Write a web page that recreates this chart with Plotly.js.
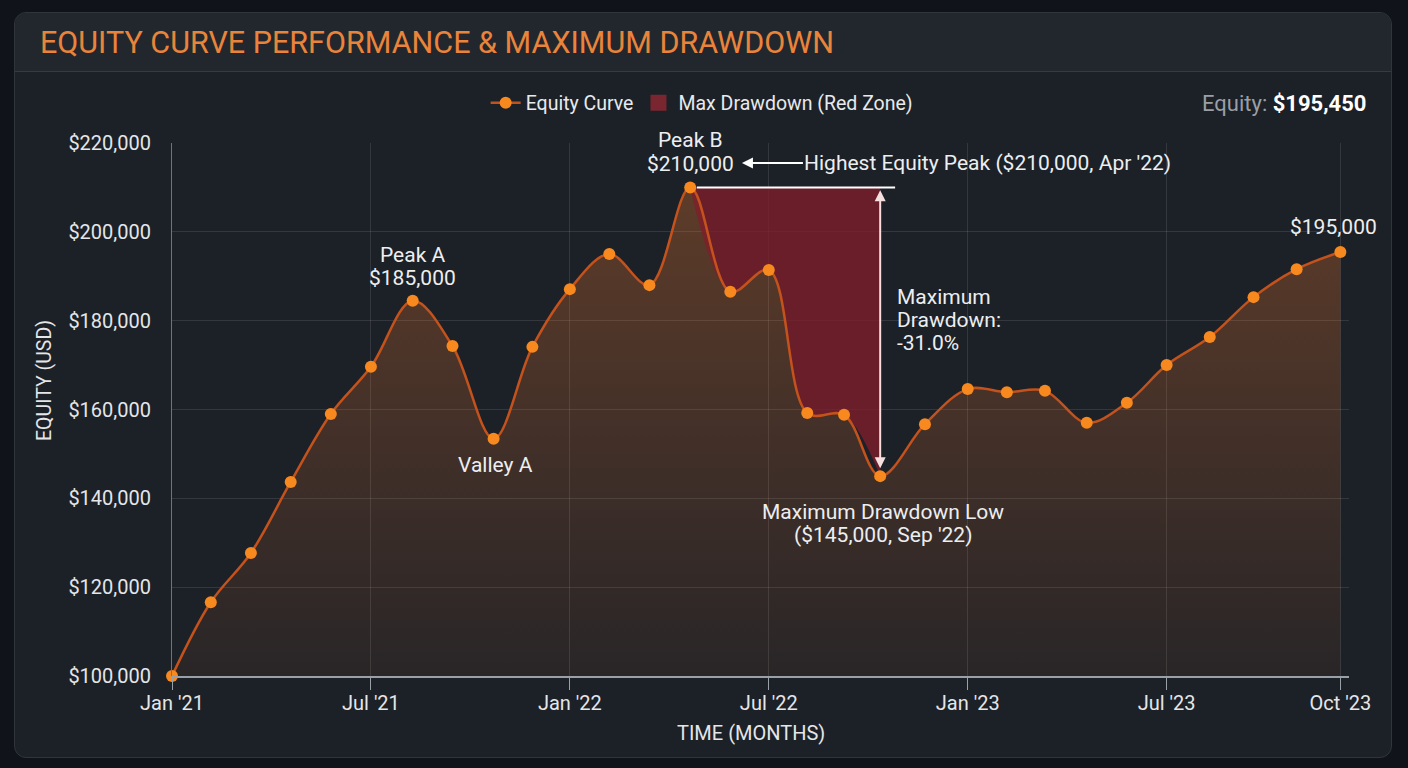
<!DOCTYPE html>
<html>
<head>
<meta charset="utf-8">
<script src="https://cdn.plot.ly/plotly-3.0.1.min.js"></script>
<style>
  html, body { margin:0; padding:0; background:#10141a; width:1408px; height:768px; overflow:hidden; }
  #card { position:absolute; left:14px; top:12px; width:1378px; height:746px; box-sizing:border-box;
          background:#1c2027; border:1px solid #30353c; border-radius:12px; overflow:hidden; }
  #hdr { position:absolute; left:0; top:0; width:100%; height:58px; background:#22272e; border-bottom:1px solid #363b43; }
  #chart { position:absolute; left:0; top:0; width:1408px; height:768px; }
</style>
</head>
<body>
<div id="card"><div id="hdr"></div></div>
<div id="chart"></div>
<script>
// ---- data (x = months since Jan '21, as placed in the picture) ----
const months = [0, 1.17, 2.38, 3.58, 4.79, 6.0, 7.26, 8.46, 9.70, 10.87,
                12.0, 13.19, 14.40, 15.63, 16.84, 18.0, 19.16, 20.27, 21.36, 22.71,
                24.0, 25.18, 26.33, 27.59, 28.80, 30.0, 31.30, 32.62, 33.92, 35.24];
const equity = [100000, 116600, 127700, 143700, 159000, 169600, 184500, 174300, 153400, 174100,
                187100, 195000, 188000, 210000, 186500, 191400, 159200, 158800, 145000, 156700,
                164600, 163900, 164200, 157000, 161500, 170000, 176300, 185300, 191600, 195450];
const tickVals = [0, 6, 12, 18, 24, 30, 35.24];
const tickText = ["Jan '21", "Jul '21", "Jan '22", "Jul '22", "Jan '23", "Jul '23", "Oct '23"];
const yTickVals = [100000, 120000, 140000, 160000, 180000, 200000, 220000];
const yTickText = ['$100,000', '$120,000', '$140,000', '$160,000', '$180,000', '$200,000', '$220,000'];
const peakIdx = 13;   // Peak B
const lowIdx = 18;    // Max drawdown low
const peakAIdx = 6;
const valleyAIdx = 8;
const lastIdx = equity.length - 1;

const FONT = 'Roboto, "Noto Sans", sans-serif';
const peakVal = equity[peakIdx];
const lowVal = equity[lowIdx];
const ddPct = ((lowVal - peakVal) / peakVal * 100).toFixed(1);
const fmt = v => '$' + v.toLocaleString('en-US');

const ddX = months.slice(peakIdx, lowIdx + 1);
const ddY = equity.slice(peakIdx, lowIdx + 1);

const traces = [
  { x: months, y: equity, type: 'scatter', mode: 'lines', line: { shape: 'spline', smoothing: 1, width: 0 },
    fill: 'tozeroy', showlegend: false, hoverinfo: 'skip',
    fillgradient: { type: 'vertical', start: 100000, stop: 212000,
      colorscale: [[0, 'rgba(215,110,45,0.07)'], [1, 'rgba(225,115,45,0.34)']] } },
  { x: ddX, y: ddY.map(() => peakVal), type: 'scatter', mode: 'lines', line: { width: 0 },
    showlegend: false, hoverinfo: 'skip' },
  { x: ddX, y: ddY, type: 'scatter', mode: 'lines', line: { shape: 'spline', smoothing: 1, width: 0 },
    fill: 'tonexty', fillcolor: 'rgba(128,30,42,0.78)', showlegend: false, hoverinfo: 'skip' },
  { x: months, y: equity, type: 'scatter', mode: 'lines+markers', name: 'Equity Curve', legendrank: 1,
    cliponaxis: false,
    line: { shape: 'spline', smoothing: 1, color: '#c4521c', width: 2.5 },
    marker: { color: '#f7891f', size: 12 } },
  { x: [null], y: [null], type: 'scatter', mode: 'markers', name: 'Max Drawdown (Red Zone)', legendrank: 2,
    marker: { symbol: 'square', size: 21, color: '#7a2630' } }
];

const annColor = '#eceef0';
const AF = { size: 21, color: annColor, family: FONT };
function lbl(x, y, text, opts) {
  return Object.assign({ x: x, y: y, text: text, showarrow: false, yanchor: 'middle', font: AF }, opts || {});
}
const annotations = [
  lbl(months[peakIdx], 215300, 'Peak B', { yshift: 24 }),
  lbl(months[peakIdx], 215300, fmt(peakVal)),
  { x: 17.19, y: 215500, ax: 246, ay: 0, text: "Highest Equity Peak (" + fmt(peakVal) + ", Apr '22)",
    showarrow: true, arrowhead: 2, arrowsize: 1.1, arrowwidth: 2, arrowcolor: '#ffffff', font: AF },
  lbl(months[peakAIdx], 194800, 'Peak A'),
  lbl(months[peakAIdx], 189600, '$185,000'),
  lbl(months[valleyAIdx], 147500, 'Valley A', { xshift: 2 }),
  lbl(21.81, 185300, 'Maximum', { xanchor: 'left' }),
  lbl(21.81, 180150, 'Drawdown:', { xanchor: 'left' }),
  lbl(21.81, 175000, ddPct + '%', { xanchor: 'left' }),
  lbl(months[lowIdx], 136900, 'Maximum Drawdown Low', { xshift: 3 }),
  lbl(months[lowIdx], 131750, '(' + fmt(lowVal) + ", Sep '22)", { xshift: 3 }),
  lbl(months[lastIdx], 201100, '$195,000', { xshift: -7 }),
  { x: months[lowIdx], y: 146800, ax: months[lowIdx], ay: 209700, axref: 'x', ayref: 'y', text: '',
    showarrow: true, arrowside: 'end+start', arrowhead: 2, startarrowhead: 2, arrowsize: 1.1, startarrowsize: 1.1,
    arrowwidth: 2, arrowcolor: '#f4dede', standoff: 0, startstandoff: 0 },
  { xref: 'paper', yref: 'paper', x: 1.0161, y: 1.075, xanchor: 'right', yanchor: 'middle', showarrow: false,
    text: '<span style="color:#9a9fa6">Equity: </span><b>$195,450</b>',
    font: { size: 22, color: '#ffffff', family: FONT } },
  { xref: 'paper', yref: 'paper', x: -0.1079, y: 0.5535, xanchor: 'center', yanchor: 'middle', textangle: -90,
    showarrow: false, text: 'EQUITY (USD)', font: { size: 19.5, color: '#e4e6e8', family: FONT } },
  { xref: 'paper', yref: 'paper', x: 0.4919, y: -0.1069, xanchor: 'center', yanchor: 'middle', showarrow: false,
    text: 'TIME (MONTHS)', font: { size: 20, color: '#e4e6e8', family: FONT } }
];

const shapes = [
  { type: 'line', xref: 'x', yref: 'y', x0: months[peakIdx] + 0.2, x1: 21.81, y0: peakVal, y1: peakVal,
    line: { color: '#ffffff', width: 2 } }
];

const layout = {
  width: 1408, height: 768,
  paper_bgcolor: 'rgba(0,0,0,0)', plot_bgcolor: 'rgba(0,0,0,0)',
  margin: { l: 172, r: 59, t: 143, b: 92 },
  font: { family: FONT, color: '#e4e6e8', size: 20 },
  title: { text: 'EQUITY CURVE PERFORMANCE &amp; MAXIMUM DRAWDOWN', xref: 'container', yref: 'container',
           x: 40 / 1408, xanchor: 'left', y: 1 - 42 / 768, yanchor: 'middle',
           font: { family: FONT, size: 30.5, color: '#ea843a' } },
  showlegend: true,
  legend: { orientation: 'h', x: 0.450, xanchor: 'center', y: 1.075, yanchor: 'middle',
            font: { size: 19.5, color: '#e8eaec', family: FONT }, bgcolor: 'rgba(0,0,0,0)',
            itemwidth: 30, traceorder: 'normal' },
  xaxis: { range: [0, 35.5], tickvals: tickVals, ticktext: tickText, showgrid: true,
           gridcolor: 'rgba(255,255,255,0.11)', gridwidth: 1, zeroline: false,
           showline: true, linecolor: '#9aa0a7', linewidth: 2,
           ticks: 'outside', ticklen: 12, tickcolor: '#9aa0a7', tickwidth: 1,
           ticklabelstandoff: -4, tickfont: { size: 20, color: '#e4e6e8' } },
  yaxis: { range: [100000, 220000], tickvals: yTickVals, ticktext: yTickText,
           showgrid: true, gridcolor: 'rgba(255,255,255,0.11)',
           zeroline: false, showline: true, linecolor: '#6e747c', linewidth: 1, ticks: '',
           ticklabelstandoff: 16, tickfont: { size: 20, color: '#e4e6e8' } },
  annotations: annotations,
  shapes: shapes,
  hovermode: false
};

Plotly.newPlot('chart', traces, layout, { displayModeBar: false, staticPlot: true });
</script>
</body>
</html>
